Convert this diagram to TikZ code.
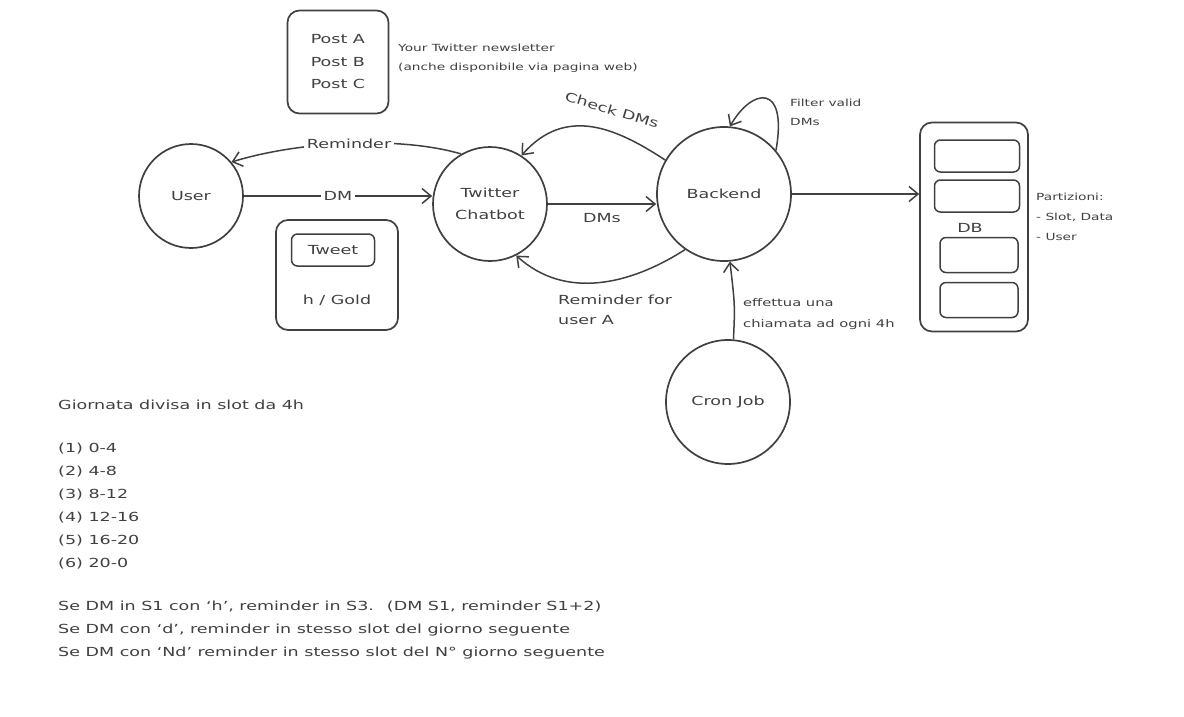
\documentclass[tikz,border=0pt]{standalone}
\usepackage{fontspec}
\setmainfont{DejaVu Sans}[FakeStretch=1.4]
\usetikzlibrary{arrows.meta}
\definecolor{ink}{HTML}{404040}

\begin{document}
\begin{tikzpicture}[x=1pt, y=-1pt,
  every node/.style={text=ink, font=\fontsize{12.5}{20}\selectfont},
  circ/.style={draw=ink, line width=1.7pt, circle, inner sep=0pt, align=center},
  rbox/.style={draw=ink, line width=1.7pt, rounded corners=12pt},
  slot/.style={draw=ink, line width=1.5pt, rounded corners=6pt, minimum width=85pt, minimum height=32pt},
  arr/.style={draw=ink, line width=1.5pt, -{Straight Barb[length=9pt,width=15pt]}},
  lbl/.style={fill=white, inner sep=3pt},
  note/.style={anchor=base west, inner sep=0pt, align=left},
  small/.style={font=\fontsize{9.8}{18.5}\selectfont}]

\useasboundingbox (0,0) rectangle (1184,716);

\node[circ, minimum size=104pt] (user) at (191,196) {User};
\node[circ, minimum size=114pt, font=\fontsize{12.5}{22}\selectfont] (bot) at (490,204) {Twitter\\Chatbot};
\node[circ, minimum size=134pt] (back) at (724,194) {Backend};
\node[circ, minimum size=124pt] (cron) at (728,402) {Cron Job};

\node[rbox, minimum width=101pt, minimum height=103pt, align=left,
  font=\fontsize{12.5}{22.5}\selectfont] (posts) at (338,62) {Post A\\Post B\\Post C};
\node[note, small] (newsletter) at (398,70) {Your Twitter newsletter\\(anche disponibile via pagina web)};

\node[rbox, minimum width=122pt, minimum height=110pt] (tweetbox) at (337,275) {};
\node[slot, minimum width=83pt] (tweet) at (333,250) {Tweet};
\node (unit) at (337,300) {h / Gold};

\node[rbox, minimum width=108pt, minimum height=209pt] (db) at (974,227) {};
\node[slot] (s1) at (977,156) {};
\node[slot] (s2) at (977,196) {};
\node[slot, minimum width=78pt, minimum height=35pt] (s3) at (979,255) {};
\node[slot, minimum width=78pt, minimum height=35pt] (s4) at (979,300) {};
\node (dblabel) at (970,228) {DB};
\node[note, small, font=\fontsize{9.8}{20}\selectfont] (parts) at (1036,240) {Partizioni:\\- Slot, Data\\- User};

\draw[arr] (user.east) -- node[lbl] {DM} (user.east -| bot.west);
\draw[arr] (bot.120) .. controls (400,136) and (300,141) .. node[lbl] {Reminder} (user.40);
\draw[arr] (bot.east) -- node[below=5pt] {DMs} (bot.east -| back.west);
\draw[arr] (back.150) .. controls (615,127) and (565,106) .. (bot.57);
\node[rotate=-17] (check) at (612,110) {Check DMs};
\draw[arr] (back.235) .. controls (630,285) and (565,300) .. (bot.-63);
\node[note] (remA) at (558,324) {Reminder for\\user A};
\draw[arr] (back.40) .. controls (788,82) and (752,88) .. (back.85);
\node[note, small] (filter) at (790,125) {Filter valid\\DMs};
\draw[arr] (cron.85) .. controls (735,305) .. (back.-85);
\node[note, small, font=\fontsize{10.5}{21}\selectfont] (calls) at (743,327) {effettua una\\chiamata ad ogni 4h};
\draw[arr] (back.east) -- (back.east -| db.west);

\node[note] (title) at (58,409) {Giornata divisa in slot da 4h};
\node[note, font=\fontsize{12.5}{23}\selectfont] (slots) at (58,567)
  {(1) 0-4\\(2) 4-8\\(3) 8-12\\(4) 12-16\\(5) 16-20\\(6) 20-0};
\node[note, font=\fontsize{12.5}{23}\selectfont] (rules) at (58,656)
  {Se DM in S1 con `h', reminder in S3. \ (DM S1, reminder S1+2)\\
   Se DM con `d', reminder in stesso slot del giorno seguente\\
   Se DM con `Nd' reminder in stesso slot del N° giorno seguente};
\end{tikzpicture}
\end{document}
